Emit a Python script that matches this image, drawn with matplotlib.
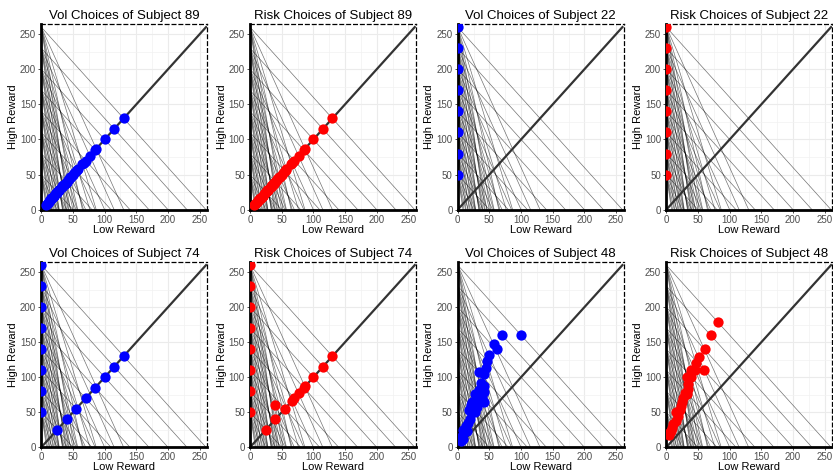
import matplotlib.pyplot as plt
import numpy as np

plt.rcParams['font.family'] = ['Liberation Sans', 'DejaVu Sans']

# budgets: each line runs from (0, high_max) down to (high_max / price, 0)
high_max = [50, 80, 110, 140, 170, 200, 230, 260]
price = [1, 2, 3, 4, 5, 6]

# choices along the diagonal (low == high)
diag_all = [25, 40, 55, 70, 85, 100, 115, 130,
            16.7, 26.7, 36.7, 46.7, 56.7, 66.7, 76.7, 86.7,
            12.5, 20, 27.5, 35, 42.5, 50, 57.5, 65,
            10, 16, 22, 28, 34, 40, 46, 52,
            8.3, 13.3, 18.3, 23.3, 28.3, 33.3, 38.3, 43.3,
            7.1, 11.4, 15.7, 20, 24.3, 28.6, 32.9, 37.1]
corner_y = [50, 80, 110, 140, 170, 200, 230, 260]
diag_74 = [25, 40, 55, 70, 85, 100, 115, 130]

# subject 74 risk
r74_x = [0, 0, 0, 0, 0, 0, 0, 0, 25, 40, 40, 55, 66, 70, 77, 85, 87, 100, 115, 130]
r74_y = [50, 80, 110, 140, 170, 200, 230, 260, 25, 40, 60, 55, 66, 70, 77, 85, 87, 100, 115, 130]

# subject 48
v48_x = [70, 100, 58, 62, 50, 46, 44, 33, 42, 37, 42, 33, 41, 28, 38, 42, 25, 21, 30, 25,
         18, 27, 20, 17, 13, 9, 14, 7, 9, 5, 23, 30]
v48_y = [160, 160, 147, 140, 132, 123, 113, 108, 104, 92, 88, 82, 79, 76, 70, 65, 64, 60, 57, 53,
         53, 50, 40, 35, 30, 25, 23, 16, 12, 9, 65, 60]
r48_x = [82, 70, 61, 60, 51, 47, 45, 39, 32, 39, 35, 35, 30, 32, 27, 24, 23, 21, 15, 19,
         15, 11, 8.5, 6, 5, 8]
r48_y = [179, 160, 140, 110, 129, 120, 110, 111, 101, 101, 91, 83, 78, 76, 71, 64, 59, 53, 50, 45,
         38, 33, 28, 22, 17, 23]

panels = [
    ("Vol Choices of Subject 89", diag_all, diag_all, "blue"),
    ("Risk Choices of Subject 89", diag_all, diag_all, "red"),
    ("Vol Choices of Subject 22", [0] * 8, corner_y, "blue"),
    ("Risk Choices of Subject 22", [0] * 8, corner_y, "red"),
    ("Vol Choices of Subject 74", [0] * 8 + diag_74, corner_y + diag_74, "blue"),
    ("Risk Choices of Subject 74", r74_x, r74_y, "red"),
    ("Vol Choices of Subject 48", v48_x, v48_y, "blue"),
    ("Risk Choices of Subject 48", r48_x, r48_y, "red"),
]

fig = plt.figure(figsize=(8.33, 4.74), dpi=100)
lefts = [41.3, 250, 457.7, 666.3]
W, H = 833, 474
rows = [(209.7, 185.4), (447.3, 185.0)]

for i, (title, xs, ys, col) in enumerate(panels):
    r, c = divmod(i, 4)
    bot, h = rows[r]
    ax = fig.add_axes([lefts[c] / W, 1 - bot / H, 166 / W, h / H])
    ax.set_xlim(0, 262)
    ax.set_ylim(0, 264)
    ax.set_xticks([0, 50, 100, 150, 200, 250])
    ax.set_yticks([0, 50, 100, 150, 200, 250])
    ax.set_xticks(np.arange(25, 262, 50), minor=True)
    ax.set_yticks(np.arange(25, 264, 50), minor=True)
    ax.grid(True, which='major', color='#EBEBEB', lw=0.8)
    ax.grid(True, which='minor', color='#F2F2F2', lw=0.5)
    ax.set_axisbelow(True)
    ax.tick_params(which='major', length=2.5, width=0.6, color='#333333',
                   labelsize=7, labelcolor='#4D4D4D', pad=1.2)
    ax.tick_params(which='minor', length=0)

    for ym in high_max:
        for p in price:
            ax.plot([0, ym / p], [ym, 0], color='black', lw=0.5, alpha=0.55)
    ax.plot([0, 260], [0, 260], color='#333333', lw=1.6)

    ax.scatter(xs, ys, s=55, color=col, zorder=5, linewidths=0)

    for s in ['left', 'bottom']:
        ax.spines[s].set_linewidth(2)
        ax.spines[s].set_color('black')
    for s in ['top', 'right']:
        ax.spines[s].set_linestyle((0, (3, 2.5)))
        ax.spines[s].set_linewidth(0.9)

    ax.set_title(title, fontsize=9.5, pad=4)
    ax.set_xlabel("Low Reward", fontsize=8, labelpad=0)
    ax.set_ylabel("High Reward", fontsize=8, labelpad=1.5)

fig.savefig("out.png", dpi=100)
